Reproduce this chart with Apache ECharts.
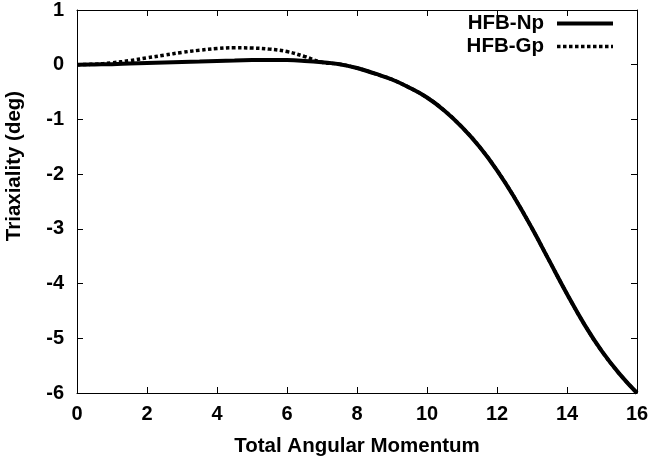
<!DOCTYPE html>
<html>
<head>
<meta charset="utf-8">
<script src="https://cdn.jsdelivr.net/npm/echarts@6/dist/echarts.min.js"></script>
<style>html,body{margin:0;padding:0;background:#fff}#c{width:652px;height:463px}</style>
</head>
<body>
<div id="c"></div>
<script>
const angMomNp = [0,0.5,1,1.5,2,2.5,3,3.5,4,4.5,5,5.5,6,6.5,7,7.5,8,8.5,9,9.5,10,10.5,11,11.5,12,12.5,13,13.5,14,14.5,15,15.5,16];
const triaxNp  = [0,0.005,0.01,0.02,0.03,0.04,0.05,0.06,0.07,0.078,0.085,0.088,0.085,0.07,0.045,0.01,-0.06,-0.16,-0.27,-0.42,-0.6,-0.84,-1.14,-1.5,-1.93,-2.43,-2.99,-3.59,-4.19,-4.75,-5.24,-5.65,-6.0];
const angMomGp = [0,0.5,1,1.5,2,2.5,3,3.5,4,4.5,5,5.5,6,6.5,7,7.5,8,8.5,9,9.5,10,10.5,11,11.5,12,12.5,13,13.5,14,14.5,15,15.5,16];
const triaxGp  = [0,0.01,0.035,0.075,0.125,0.175,0.225,0.265,0.295,0.31,0.305,0.285,0.24,0.15,0.045,0.01,-0.06,-0.16,-0.27,-0.42,-0.6,-0.84,-1.14,-1.5,-1.93,-2.43,-2.99,-3.59,-4.19,-4.75,-5.24,-5.65,-6.0];
const seriesNames = ['HFB-Np','HFB-Gp'];
const xTitle = 'Total Angular Momentum';
const yTitle = 'Triaxiality (deg)';

const FONT = '"Liberation Sans", Arial, sans-serif';
const chart = echarts.init(document.getElementById('c'), null, {renderer:'canvas'});
const pairs = (xs, ys) => xs.map((x,i)=>[x, ys[i]]);
const axisCommon = {
  axisLine:{show:true, onZero:false, lineStyle:{color:'#000', width:1}},
  axisTick:{show:true, inside:true, length:6, lineStyle:{color:'#000', width:1}},
  splitLine:{show:false}
};
chart.setOption({
  animation:false,
  backgroundColor:'#fff',
  grid:{left:77, right:15, top:6, bottom:70, containLabel:false},
  legend:{
    orient:'vertical', right:32, top:8, align:'right',
    itemWidth:56, itemHeight:14, itemGap:2,
    itemStyle:{opacity:0},
    textStyle:{fontFamily:FONT, fontWeight:'bold', fontSize:20.5, color:'#000', padding:[0,8,0,0]},
    data:[
      {name:seriesNames[0], lineStyle:{width:4, color:'#000'}},
      {name:seriesNames[1], lineStyle:{width:3.5, color:'#000', type:[3.5,2.5]}}
    ]
  },
  xAxis:[
    Object.assign({type:'value', min:0, max:16, interval:2, position:'bottom',
      axisLabel:{fontFamily:FONT, fontWeight:'bold', fontSize:20, color:'#000', margin:11},
      name:xTitle, nameLocation:'middle', nameGap:43,
      nameTextStyle:{fontFamily:FONT, fontWeight:'bold', fontSize:20.5, color:'#000'}}, axisCommon),
    Object.assign({type:'value', min:0, max:16, interval:2, position:'top', axisLabel:{show:false}}, axisCommon)
  ],
  yAxis:[
    Object.assign({type:'value', min:-6, max:1, interval:1, position:'left',
      axisLabel:{fontFamily:FONT, fontWeight:'bold', fontSize:20, color:'#000', margin:13}}, axisCommon),
    Object.assign({type:'value', min:-6, max:1, interval:1, position:'right', axisLabel:{show:false}}, axisCommon)
  ],
  graphic:[{
    type:'text', x:14, y:166, rotation:Math.PI/2,
    style:{text:yTitle, fontFamily:FONT, fontWeight:'bold', fontSize:20.5, fill:'#000', textAlign:'center', textVerticalAlign:'middle'}
  }],
  series:[
    {name:seriesNames[0], type:'line', data:pairs(angMomNp, triaxNp), showSymbol:false, symbol:'none', smooth:0.45,
     lineStyle:{color:'#000', width:4}, itemStyle:{color:'#000'}, z:2},
    {name:seriesNames[1], type:'line', data:pairs(angMomGp, triaxGp), showSymbol:false, symbol:'none', smooth:0.45,
     lineStyle:{color:'#000', width:3.5, type:[3.5,2.5]}, itemStyle:{color:'#000'}, z:3}
  ]
});
</script>
</body>
</html>
